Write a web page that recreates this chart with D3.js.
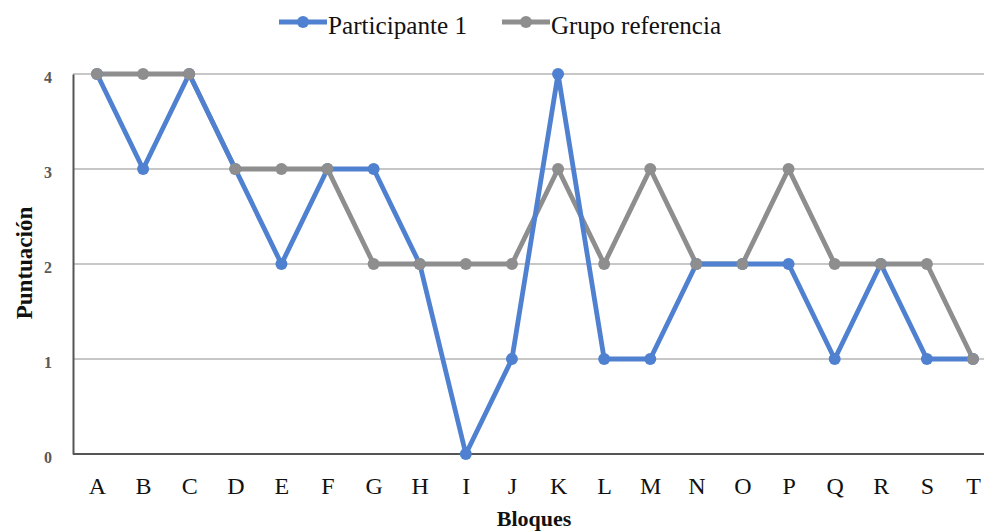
<!DOCTYPE html>
<html><head><meta charset="utf-8">
<script src="https://cdn.jsdelivr.net/npm/d3@7"></script>
<style>body{margin:0;background:#fff}svg{display:block}</style>
</head><body>
<script>
const categories = ["A","B","C","D","E","F","G","H","I","J","K","L","M","N","O","P","Q","R","S","T"];
const participante = [4,3,4,3,2,3,3,2,0,1,4,1,1,2,2,2,1,2,1,1];
const grupo = [4,4,4,3,3,3,2,2,2,2,3,2,3,2,2,3,2,2,2,1];
const yTicks = [0,1,2,3,4];
const seriesNames = ["Participante 1","Grupo referencia"];
const colors = ["#4f81d0","#8e8e8e"];

const W=984,H=531;
const svg=d3.select("body").append("svg").attr("width",W).attr("height",H);
const x=d3.scalePoint().domain(categories).range([97,973]);
const y=d3.scaleLinear().domain([0,4]).range([454,74]);
const font="Liberation Serif";

// gridlines
svg.append("g").selectAll("line").data(yTicks.filter(d=>d>0)).join("line")
 .attr("x1",73).attr("x2",W).attr("y1",d=>y(d)).attr("y2",d=>y(d))
 .attr("stroke","#b5b5b5").attr("stroke-width",1.3);

// axes
const yAxis=svg.append("g").attr("transform","translate(73,0)").call(d3.axisLeft(y).tickValues(yTicks).tickSize(0).tickFormat(d3.format("d")));
yAxis.select(".domain").attr("stroke","#555").attr("stroke-width",2);
yAxis.selectAll("text").attr("x",-25).attr("text-anchor","middle").attr("dy","0.55em")
 .style("font-family",font).attr("font-size",16).attr("font-weight","bold").attr("fill","#595959");
const xAxis=svg.append("g").attr("transform","translate(0,454)").call(d3.axisBottom(x).tickSize(0).tickPadding(23));
xAxis.select(".domain").attr("d",`M73,0H${W}`).attr("stroke","#555").attr("stroke-width",2);
xAxis.selectAll("text").style("font-family",font).attr("font-size",24).attr("fill","#111");

// series: lines first (gray under blue), then markers
const data=[participante,grupo];
const line=d3.line().x((d,j)=>x(categories[j])).y(d=>y(d));
[1,0].forEach(i=>{
  svg.append("path").datum(data[i]).attr("fill","none").attr("stroke",colors[i]).attr("stroke-width",4.8)
   .attr("stroke-linejoin","round").attr("d",line);
});
[0,1].forEach(i=>{
  svg.append("g").selectAll("circle").data(data[i]).join("circle")
   .attr("cx",(d,j)=>x(categories[j])).attr("cy",d=>y(d)).attr("r",6).attr("fill",colors[i]);
});

// axis titles
svg.append("text").attr("x",534).attr("y",526).attr("text-anchor","middle").style("font-family",font)
 .attr("font-size",22).attr("font-weight","bold").attr("fill","#111").text("Bloques");
svg.append("text").attr("transform","translate(32,263) rotate(-90)").attr("text-anchor","middle").style("font-family",font)
 .attr("font-size",23).attr("font-weight","bold").attr("fill","#111").text("Puntuación");

// legend
const leg=[{x:279,w:48,tw:139},{x:502,w:48,tw:170}];
leg.forEach((l,i)=>{
  const g=svg.append("g");
  g.append("line").attr("x1",l.x).attr("x2",l.x+l.w).attr("y1",22).attr("y2",22).attr("stroke",colors[i]).attr("stroke-width",4.8);
  g.append("circle").attr("cx",l.x+l.w/2).attr("cy",22).attr("r",6).attr("fill",colors[i]);
  g.append("text").attr("x",l.x+l.w+1).attr("y",34).style("font-family",font).attr("font-size",26)
   .attr("textLength",l.tw).attr("lengthAdjust","spacingAndGlyphs").attr("fill","#111").text(seriesNames[i]);
});
</script>
</body></html>
